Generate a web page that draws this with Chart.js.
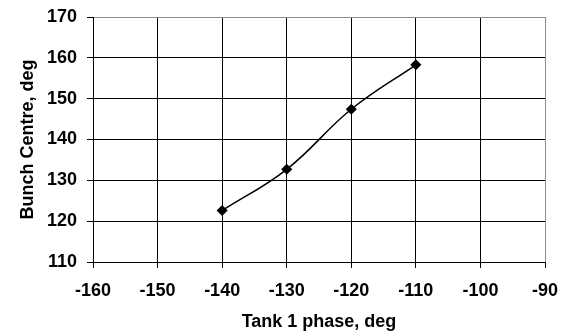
<!DOCTYPE html>
<html>
<head>
<meta charset="utf-8">
<script src="https://cdn.jsdelivr.net/npm/chart.js"></script>
<style>
  html, body { margin: 0; padding: 0; background: #fff; }
  #wrap { width: 562px; height: 334px; }
</style>
</head>
<body>
<div id="wrap"><canvas id="chart" width="562" height="334"></canvas></div>
<script>
// Bunch centre vs tank 1 phase
const phase = [-140, -130, -120, -110];
const centre = [122.6, 132.7, 147.4, 158.3];
const xRange = [-160, -90];
const yRange = [110, 170];

const font = { family: "'Liberation Sans', Arial, sans-serif", size: 18, weight: 'bold' };

const edgeColor = (max) => (ctx) => ctx.tick && ctx.tick.value === max ? '#8c8c8c' : '#000';

new Chart(document.getElementById('chart'), {
  type: 'line',
  data: {
    datasets: [{
      data: phase.map((x, i) => ({ x, y: centre[i] })),
      borderColor: '#000',
      backgroundColor: '#000',
      borderWidth: 1.5,
      tension: 0.4,
      pointStyle: 'rectRot',
      pointRadius: 4.5,
      pointHoverRadius: 4.5
    }]
  },
  options: {
    responsive: false,
    animation: false,
    layout: { padding: { top: 17, right: 17, left: 0, bottom: 0 } },
    plugins: { legend: { display: false }, tooltip: { enabled: false } },
    scales: {
      x: {
        type: 'linear',
        min: xRange[0], max: xRange[1],
        ticks: { stepSize: 10, color: '#000', font, padding: 12, maxRotation: 0 },
        grid: { color: edgeColor(xRange[1]), tickColor: '#000', tickLength: 6, lineWidth: 1 },
        border: { color: '#000' },
        title: { display: true, text: 'Tank 1 phase, deg', color: '#000', font, padding: { top: 0, bottom: 1 } },
        // keep the plot area fixed; labels may spill into the margins
        afterFit: s => { s.height = 72; s.paddingLeft = 0; s.paddingRight = 0; }
      },
      y: {
        min: yRange[0], max: yRange[1],
        ticks: { stepSize: 10, color: '#000', font, padding: 10 },
        grid: { color: edgeColor(yRange[1]), tickColor: '#000', tickLength: 6, lineWidth: 1 },
        border: { color: '#000' },
        title: { display: true, text: 'Bunch Centre, deg', color: '#000', font, padding: { top: 17, bottom: 0 } },
        afterFit: s => { s.width = 93; s.paddingTop = 0; s.paddingBottom = 0; }
      }
    }
  }
});
</script>
</body>
</html>
